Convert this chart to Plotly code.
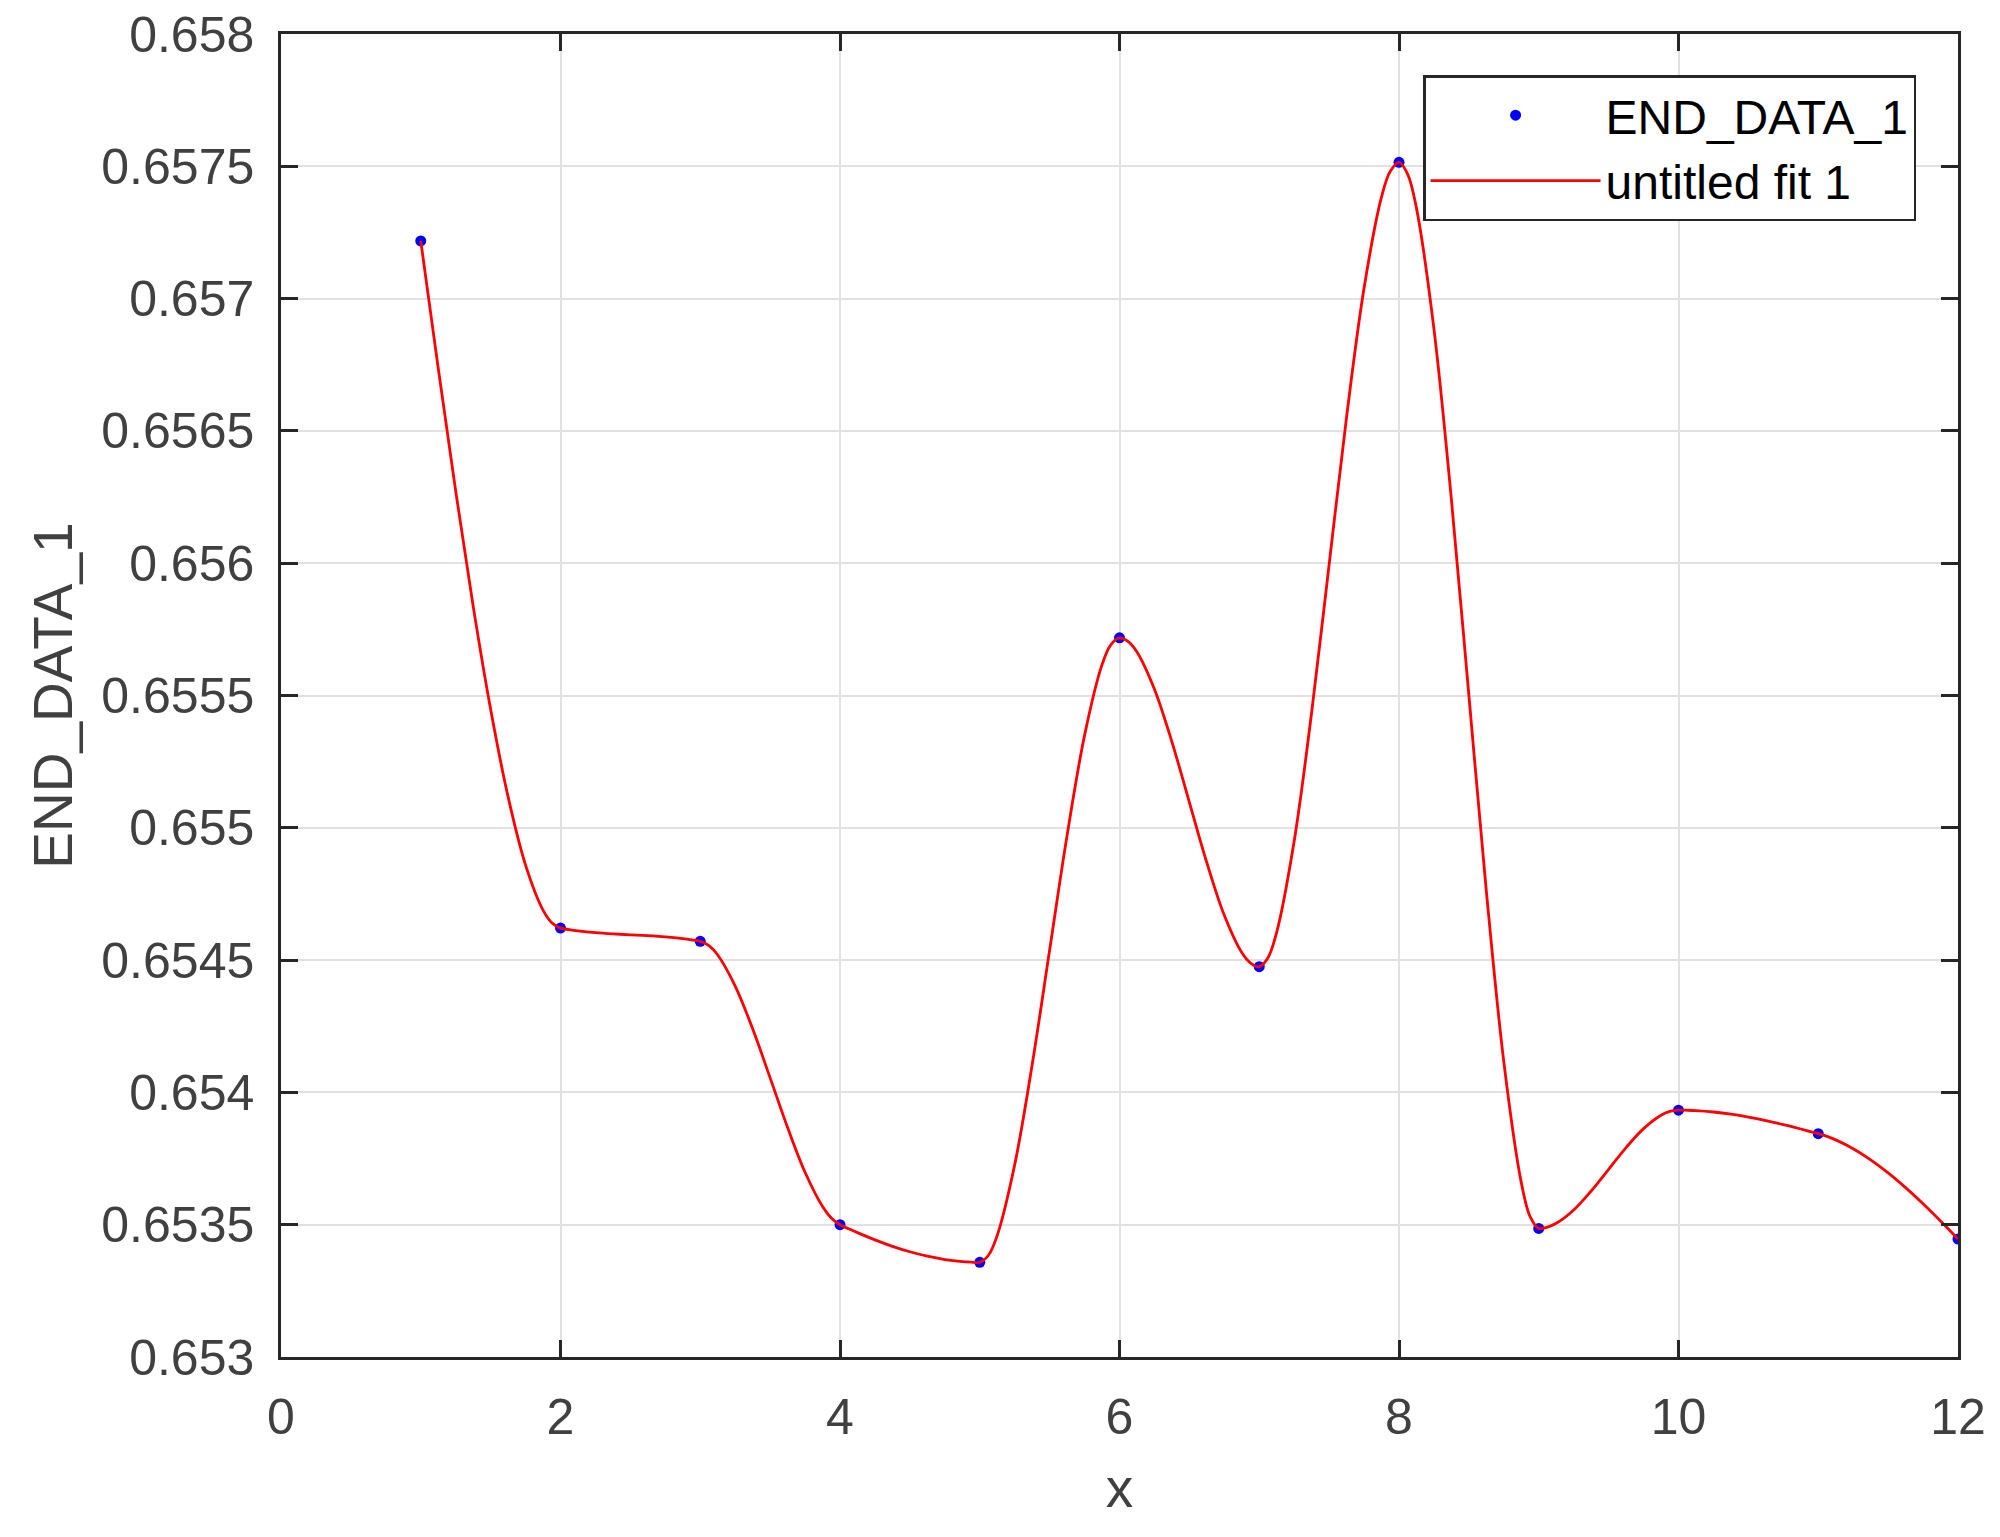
import plotly.graph_objects as go

# ---- data ----
x_data = [1, 2, 3, 4, 5, 6, 7, 8, 9, 10, 11, 12]
y_data = [0.657218, 0.654621, 0.654571, 0.653500, 0.653358, 0.655718,
          0.654475, 0.657515, 0.653486, 0.653933, 0.653844, 0.653446]

# "untitled fit 1" curve
fit_x = [1, 1.125, 1.25, 1.375, 1.5, 1.625, 1.75, 1.875, 1.9375,
         2, 2.0625, 2.125, 2.25, 2.375, 2.5, 2.625, 2.75, 2.875, 2.9375,
         3, 3.0625, 3.125, 3.25, 3.375, 3.5, 3.625, 3.75, 3.875, 3.9375,
         4, 4.0625, 4.125, 4.25, 4.375, 4.5, 4.625, 4.75, 4.875, 4.9375,
         5, 5.0625, 5.125, 5.25, 5.375, 5.5, 5.625, 5.75, 5.875, 5.9375,
         6, 6.0625, 6.125, 6.25, 6.375, 6.5, 6.625, 6.75, 6.875, 6.9375,
         7, 7.0625, 7.125, 7.25, 7.375, 7.5, 7.625, 7.75, 7.875, 7.9375,
         8, 8.0625, 8.125, 8.25, 8.375, 8.5, 8.625, 8.75, 8.875, 8.9375,
         9, 9.0625, 9.125, 9.25, 9.375, 9.5, 9.625, 9.75, 9.875, 9.9375,
         10, 10.0625, 10.125, 10.25, 10.375, 10.5, 10.625, 10.75, 10.875, 10.9375,
         11, 11.0625, 11.125, 11.25, 11.375, 11.5, 11.625, 11.75, 11.875,
         12]
fit_y = [0.6572180, 0.6567373, 0.6562725, 0.6558379, 0.6554480, 0.6551169, 0.6548592, 0.6546891, 0.6546414,
         0.6546210, 0.6546154, 0.6546108, 0.6546039, 0.6545992, 0.6545957, 0.6545922, 0.6545877, 0.6545810, 0.6545765,
         0.6545710, 0.6545546, 0.6545193, 0.6544020, 0.6542402, 0.6540549, 0.6538672, 0.6536981, 0.6535687, 0.6535255,
         0.6535000, 0.6534846, 0.6534699, 0.6534426, 0.6534183, 0.6533977, 0.6533809, 0.6533684, 0.6533607, 0.6533587,
         0.6533580, 0.6533845, 0.6534594, 0.6537268, 0.6541047, 0.6545380, 0.6549713, 0.6553493, 0.6556166, 0.6556915,
         0.6557180, 0.6557040, 0.6556646, 0.6555238, 0.6553247, 0.6550965, 0.6548683, 0.6546692, 0.6545284, 0.6544890,
         0.6544750, 0.6545091, 0.6546056, 0.6549500, 0.6554369, 0.6559950, 0.6565531, 0.6570400, 0.6573844, 0.6574809,
         0.6575150, 0.6574698, 0.6573419, 0.6568855, 0.6562402, 0.6555005, 0.6547608, 0.6541155, 0.6536591, 0.6535313,
         0.6534860, 0.6534910, 0.6535052, 0.6535558, 0.6536274, 0.6537095, 0.6537916, 0.6538632, 0.6539138, 0.6539280,
         0.6539330, 0.6539325, 0.6539312, 0.6539259, 0.6539176, 0.6539067, 0.6538935, 0.6538784, 0.6538617, 0.6538530,
         0.6538440, 0.6538336, 0.6538205, 0.6537873, 0.6537453, 0.6536959, 0.6536401, 0.6535791, 0.6535140,
         0.6534460]

x_ticks = [0, 2, 4, 6, 8, 10, 12]
y_tick_vals = [0.653, 0.6535, 0.654, 0.6545, 0.655, 0.6555, 0.656, 0.6565, 0.657, 0.6575, 0.658]
y_tick_text = ["0.653", "0.6535", "0.654", "0.6545", "0.655", "0.6555", "0.656",
               "0.6565", "0.657", "0.6575", "0.658"]

series_name = "END_DATA_1"
fit_name = "untitled fit 1"
x_title = "x"
y_title = "END_DATA_1"

FONT = "Arial, 'Liberation Sans', Helvetica, sans-serif"
AX = "#262626"
TXT = "#404040"
GRID = "#e1e1e1"

fig = go.Figure()
fig.add_trace(go.Scatter(
    x=x_data, y=y_data, mode="markers", name=series_name,
    marker=dict(color="#0000ff", size=11),
))
fig.add_trace(go.Scatter(
    x=fit_x, y=fit_y, mode="lines", name=fit_name,
    line=dict(color="#ff0000", width=2.8, shape="spline", smoothing=1.0),
))

axis_common = dict(
    showline=True, linecolor=AX, linewidth=2.5, mirror="ticks",
    ticks="inside", ticklen=17, tickwidth=2.5, tickcolor=AX,
    showgrid=True, gridcolor=GRID, gridwidth=2,
    zeroline=False,
    ticklabeloverflow="allow",
    tickfont=dict(family=FONT, size=50, color=TXT),
)

fig.update_xaxes(
    range=[0, 12], tickvals=x_ticks, ticktext=[str(v) for v in x_ticks],
    title=dict(text=x_title, font=dict(family=FONT, size=55, color=TXT), standoff=25),
    ticklabelstandoff=14,
    **axis_common,
)
fig.update_yaxes(
    range=[0.653, 0.658], tickvals=y_tick_vals, ticktext=y_tick_text,
    title=dict(text=y_title, font=dict(family=FONT, size=55, color=TXT), standoff=12),
    ticklabelstandoff=14,
    **axis_common,
)

fig.update_layout(
    width=1984, height=1521,
    margin=dict(l=273, r=34, t=26, b=172, autoexpand=False),
    paper_bgcolor="white", plot_bgcolor="white",
    showlegend=True,
    legend=dict(
        x=0.975, y=0.969, xanchor="right", yanchor="top",
        bgcolor="white", bordercolor=AX, borderwidth=2.5,
        font=dict(family=FONT, size=48, color="#000000"),
        itemwidth=170, tracegroupgap=0,
    ),
)

fig.write_html("out.html")
